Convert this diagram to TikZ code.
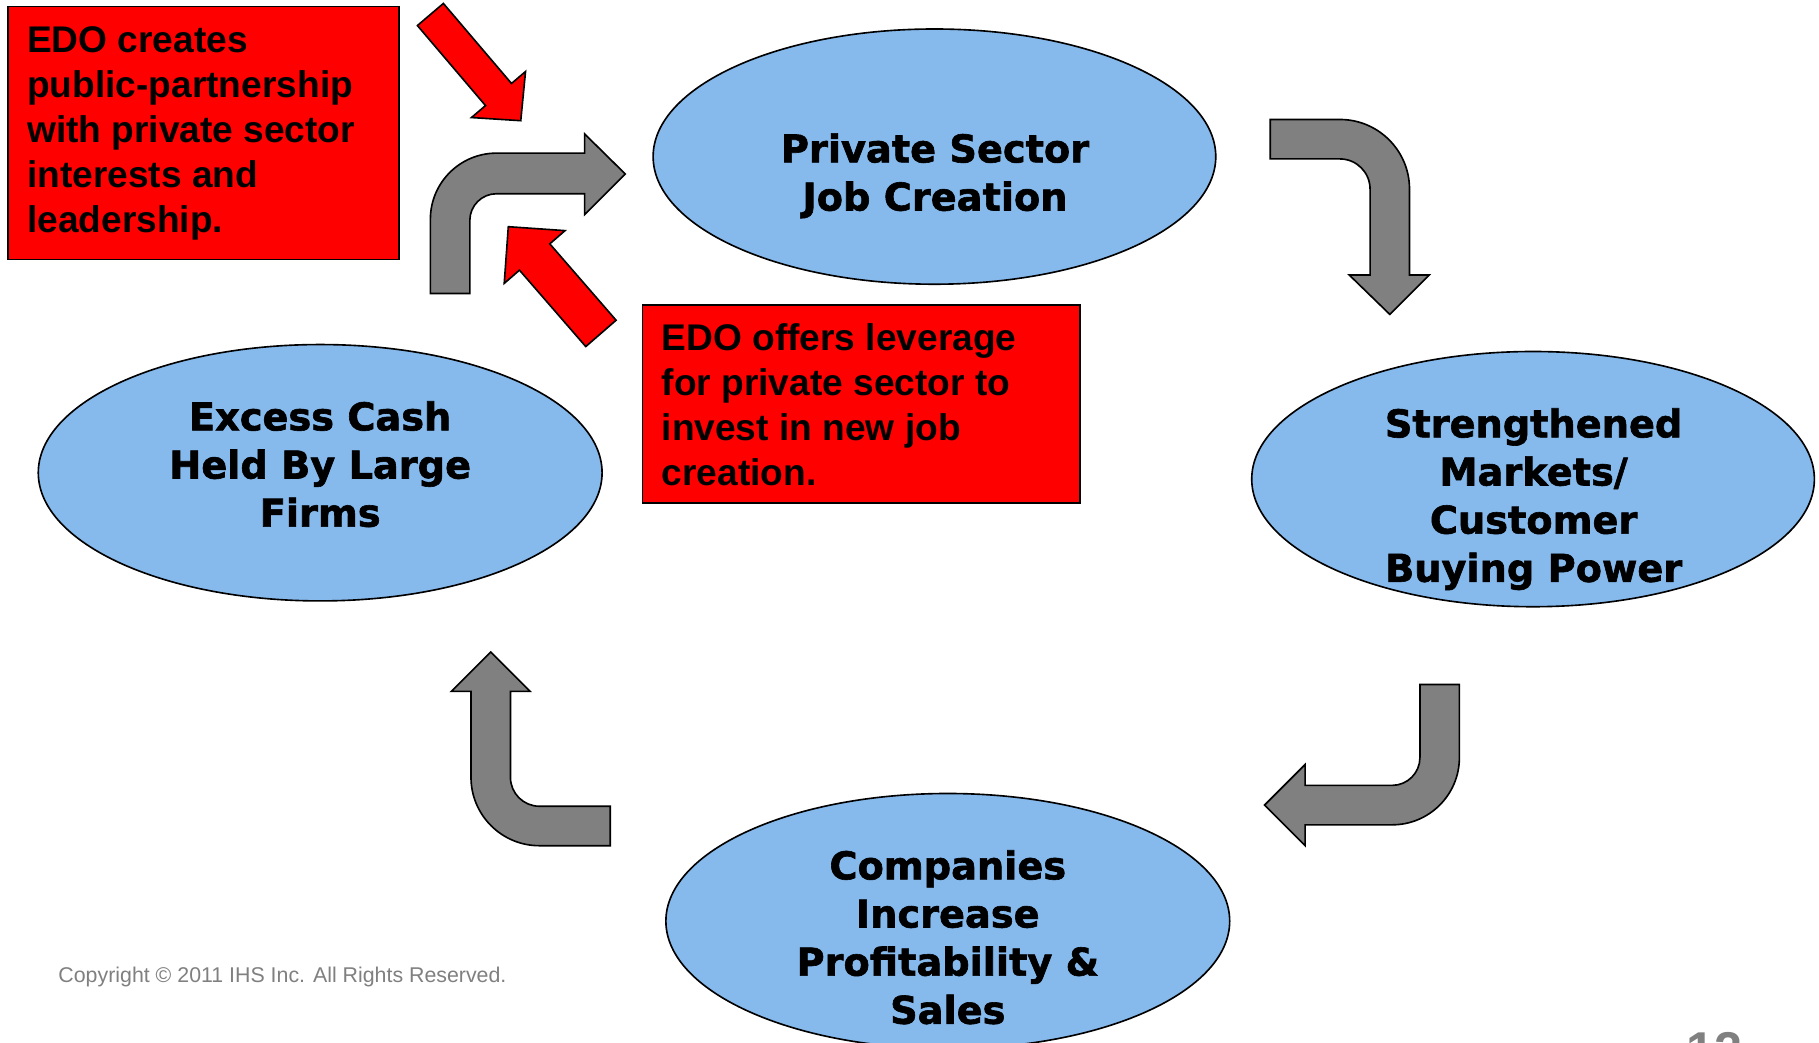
\documentclass[tikz,border=0pt]{standalone}
\usepackage{fontspec}
\setmainfont{Liberation Sans}
\newfontfamily\blackfont{DejaVu Sans}[BoldFeatures={FakeBold=1.6}]
\usetikzlibrary{shapes.geometric}
\definecolor{ellblue}{RGB}{134,185,236}
\definecolor{arrowgray}{RGB}{128,128,128}
\definecolor{textgray}{RGB}{128,128,128}
\definecolor{boxred}{RGB}{255,0,0}
\tikzset{
  ell/.style={ellipse, draw=black, fill=ellblue, line width=0.7pt, inner sep=0pt},
  redbox/.style={rectangle, draw=black, fill=boxred, line width=0.7pt, inner sep=0pt, anchor=north west},
  boxtext/.style={anchor=base west, inner sep=0pt, font=\bfseries\fontsize{16pt}{19.4pt}\selectfont},
  elltext/.style={anchor=base, inner sep=0pt, font=\blackfont\bfseries\fontsize{16.5pt}{20.75pt}\selectfont},
  grayarrow/.style={draw=black, fill=arrowgray, line width=0.7pt, line join=miter},
  redarrow/.style={draw=black, fill=boxred, line width=0.7pt, line join=miter}
}
\begin{document}
\begin{tikzpicture}[x=0.5pt, y=0.5pt]
\clip (0,0) rectangle (1568,-899);
\fill[white] (0,0) rectangle (1568,-899);

% red boxes
\node[redbox, minimum width=168.5pt, minimum height=109pt] (box1) at (6,-5) {};
\node[boxtext] (box1text) at (23,-45.5) {\parbox[t]{160pt}{\raggedright EDO creates\\ public-partnership\\ with private sector\\ interests and\\ leadership.}};
\node[redbox, minimum width=188.5pt, minimum height=85.5pt] (box2) at (553,-262) {};
\node[boxtext] (box2text) at (570,-302.5) {\parbox[t]{180pt}{\raggedright EDO offers leverage\\ for private sector to\\ invest in new job\\ creation.}};

% ellipses
\node[ell, minimum width=242.5pt, minimum height=110pt] (ps) at (805.5,-135) {};
\node[elltext] (pstext) at (806,-140) {\parbox[t]{240pt}{\centering Private Sector\\ Job Creation}};
\node[ell, minimum width=243pt, minimum height=110.5pt] (ec) at (276,-407.5) {};
\node[elltext] (ectext) at (276,-371) {\parbox[t]{240pt}{\centering Excess Cash\\ Held By Large\\ Firms}};
\node[ell, minimum width=242.5pt, minimum height=110pt] (sm) at (1321.5,-413) {};
\node[elltext] (smtext) at (1322,-377) {\parbox[t]{240pt}{\centering Strengthened\\ Markets/\\ Customer\\ Buying Power}};
\node[ell, minimum width=243pt, minimum height=110pt] (ci) at (817,-794) {};
\node[elltext] (citext) at (817,-758) {\parbox[t]{240pt}{\centering Companies\\ Increase\\ Profitability \&\\ Sales}};

% gray bent arrows
% A: up then right
\draw[grayarrow] (371,-253) -- (371,-189) arc[start angle=180, end angle=90, radius=57]
  -- (504,-132) -- (504,-115.5) -- (539,-150) -- (504,-185) -- (504,-167)
  -- (428,-167) arc[start angle=90, end angle=180, radius=23] -- (405,-253) -- cycle;
% B: right then down
\draw[grayarrow] (1095,-103) -- (1155,-103) arc[start angle=90, end angle=0, radius=60]
  -- (1215,-237) -- (1232,-237) -- (1198,-271) -- (1163,-237) -- (1181,-237)
  -- (1181,-163) arc[start angle=0, end angle=90, radius=26] -- (1095,-137) -- cycle;
% C: down then left
\draw[grayarrow] (1224,-590) -- (1258,-590) -- (1258,-653) arc[start angle=0, end angle=-90, radius=58]
  -- (1125,-711) -- (1125,-729) -- (1090,-694) -- (1125,-659) -- (1125,-677)
  -- (1200,-677) arc[start angle=-90, end angle=0, radius=24] -- cycle;
% D: left then up
\draw[grayarrow] (526,-695) -- (465,-695) arc[start angle=270, end angle=180, radius=25]
  -- (440,-596) -- (457,-596) -- (423,-562) -- (389,-596) -- (406,-596)
  -- (406,-670) arc[start angle=180, end angle=270, radius=59] -- (526,-729) -- cycle;

% red arrows
\begin{scope}[shift={(371,-12.5)}, rotate=-49.6]
\draw[redarrow] (0,14.7) -- (90.6,14.7) -- (90.6,30.6) -- (120.2,0) -- (90.6,-30.6) -- (90.6,-14.7) -- (0,-14.7) -- cycle;
\end{scope}
\begin{scope}[shift={(518,-287.4)}, rotate=130.95]
\draw[redarrow] (0,17.3) -- (87.2,17.3) -- (87.2,34.7) -- (121.8,0) -- (87.2,-34.7) -- (87.2,-17.3) -- (0,-17.3) -- cycle;
\end{scope}

% footer
\node[anchor=base west, inner sep=0pt, text=textgray, font=\fontsize{9.2pt}{11pt}\selectfont] (copy) at (50,-846.5) {Copyright © 2011 IHS Inc. All Rights Reserved.};
\node[anchor=base west, inner sep=0pt, text=textgray, font=\bfseries\fontsize{21.7pt}{26pt}\selectfont] (pagenum) at (1453,-920) {12};
\end{tikzpicture}
\end{document}
